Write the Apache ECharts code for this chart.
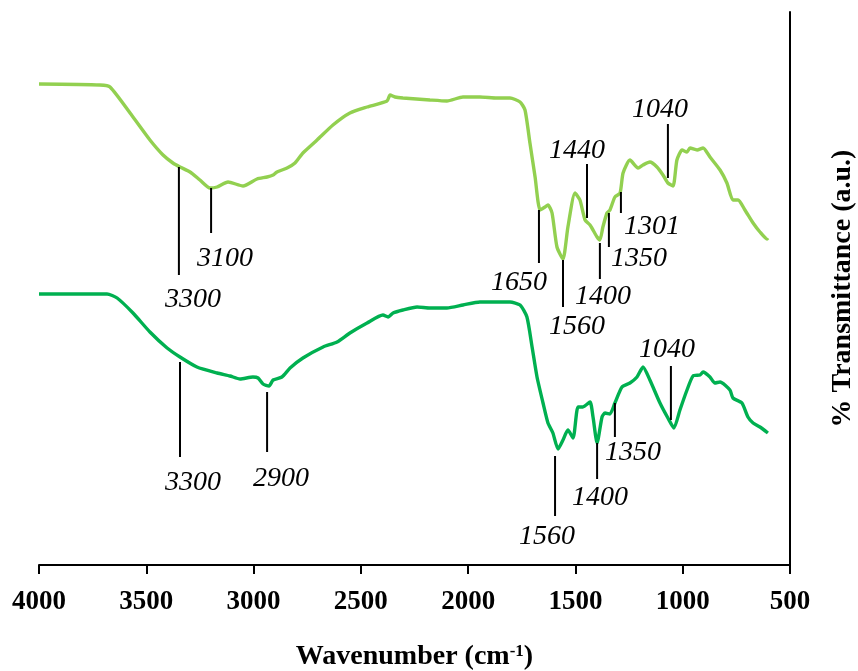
<!DOCTYPE html>
<html>
<head>
<meta charset="utf-8">
<script src="https://cdn.jsdelivr.net/npm/echarts@6/dist/echarts.min.js"></script>
<style>
html,body{margin:0;padding:0;background:#fff;}
#chart{width:858px;height:671px;}
</style>
</head>
<body>
<div id="chart"></div>
<script>
// ---- Data ----
var xTicks = [4000, 3500, 3000, 2500, 2000, 1500, 1000, 500];

// Upper spectrum (light green)
var upperWavenumber = [4000,3716,3669,3562,3483,3422,3376,3343,3296,3250,3203,3170,3119,3049,2984,2937,2909,2891,2844,2807,2770,2704,2630,2551,2471,2378,2364,2341,2304,2178,2099,2024,1945,1866,1805,1758,1735,1712,1688,1665,1642,1628,1609,1586,1558,1535,1502,1479,1455,1432,1399,1386,1372,1353,1339,1316,1292,1278,1246,1208,1185,1153,1120,1092,1069,1045,1027,1003,980,966,933,905,873,826,794,766,742,710,672,640,607,603];
var upperTransmittance = [481,480,478,448,425,410,402,398,393,385,377,378,383,379,386,388,390,393,397,402,412,425,440,452,458,464,470,468,467,465,464,468,468,467,467,463,455,422,388,355,358,360,352,318,306,338,372,365,345,340,328,325,338,352,355,368,372,392,405,397,400,403,398,390,382,379,405,415,413,417,415,417,408,395,382,365,365,355,342,333,326,327];

// Lower spectrum (green)
var lowerWavenumber = [4000,3683,3636,3562,3483,3403,3343,3264,3170,3110,3063,3003,2979,2956,2928,2909,2868,2830,2770,2676,2611,2551,2471,2397,2373,2350,2304,2238,2178,2099,2024,1945,1805,1758,1726,1702,1679,1651,1628,1605,1581,1558,1535,1511,1488,1465,1432,1418,1399,1376,1362,1339,1316,1283,1246,1213,1185,1153,1106,1069,1041,1013,980,952,919,905,873,850,826,780,766,724,696,672,640,603];
var lowerTransmittance = [271,271,267,252,233,217,208,198,192,189,186,188,187,181,179,185,188,197,207,218,223,232,242,250,248,252,255,258,257,257,260,263,263,260,248,218,188,162,142,132,116,125,135,127,158,158,163,148,122,148,152,151,162,178,182,188,198,185,162,147,137,155,175,189,190,193,188,182,183,175,167,162,148,142,138,132];

// Peak annotations: label text, marker wavenumber, marker top and bottom (transmittance units)
var annotText   = ['3300','3100','1650','1560','1440','1400','1350','1301','1040','3300','2900','1560','1400','1350','1040'];
var annotWn     = [3348, 3198, 1670, 1558, 1446, 1386, 1344, 1288, 1069, 3343, 2937, 1595, 1399, 1316, 1055];
var annotTop    = [398, 377, 355, 305, 401, 322, 352, 373, 441, 203, 173, 109, 122, 162, 199];
var annotBottom = [290, 332, 302, 258, 347, 286, 318, 352, 387, 108, 113, 49, 86, 128, 145];

// ---- Styles (label placement relative to the marker end, in pixels) ----
var annotAbove = [false,false,false,false,true,false,false,false,true,false,false,false,false,false,true];
var annotDx    = [14,14,-20,14,-10,3,30,31,-8,13,14,-8,3,18,-4];
var annotDy    = [25,26,20,20,-13,18,12,14,-14,26,27,21,19,16,-16];

function zip(a, b){ var r=[]; for (var i=0;i<a.length;i++) r.push([a[i], b[i]]); return r; }

var annotData = [];
for (var i=0;i<annotText.length;i++) annotData.push([annotWn[i], annotTop[i], annotBottom[i], i]);

var serif = "'Liberation Serif','Times New Roman',serif";

var chart = echarts.init(document.getElementById('chart'), null, {renderer:'canvas'});
chart.setOption({
  backgroundColor: '#fff',
  animation: false,
  grid: { left: 39, right: 68, top: 12, bottom: 106, containLabel: false, outerBoundsMode: 'none' },
  xAxis: {
    type: 'value', min: 500, max: 4000, interval: 500, inverse: true,
    axisLine: { show: true, lineStyle: { color: '#000', width: 2 } },
    axisTick: { show: true, length: 9, inside: false, lineStyle: { color: '#000', width: 2 } },
    axisLabel: { show: true, margin: 24, color: '#000', fontFamily: serif, fontWeight: 'bold', fontSize: 27,
      formatter: function(v){ return xTicks.indexOf(v) >= 0 ? String(v) : ''; } },
    splitLine: { show: false },
    name: '{a|Wavenumber (cm}{s|-1}{a|)}',
    nameLocation: 'middle', nameGap: 78,
    nameTextStyle: {
      rich: {
        a: { fontFamily: serif, fontWeight: 'bold', fontSize: 28, color: '#000' },
        s: { fontFamily: serif, fontWeight: 'bold', fontSize: 17, color: '#000', verticalAlign: 'top', padding: [0,0,10,0] }
      }
    }
  },
  yAxis: {
    type: 'value', position: 'right', min: 0, max: 553,
    axisLine: { show: true, onZero: false, lineStyle: { color: '#000', width: 2 } },
    axisTick: { show: false }, axisLabel: { show: false }, splitLine: { show: false },
    name: '% Transmittance (a.u.)', nameLocation: 'middle', nameRotate: 90, nameGap: 39,
    nameTextStyle: { fontFamily: serif, fontWeight: 'bold', fontSize: 28, color: '#000' }
  },
  series: [
    { name: 'upper', type: 'line', data: zip(upperWavenumber, upperTransmittance), showSymbol: false, smooth: 0.2,
      lineStyle: { color: '#92D050', width: 3.4 }, itemStyle: { color: '#92D050' } },
    { name: 'lower', type: 'line', data: zip(lowerWavenumber, lowerTransmittance), showSymbol: false, smooth: 0.2,
      lineStyle: { color: '#00B050', width: 3.4 }, itemStyle: { color: '#00B050' } },
    { name: 'peaks', type: 'custom', clip: false, z: 5,
      data: annotData,
      renderItem: function(params, api){
        var idx = api.value(3);
        var p1 = api.coord([api.value(0), api.value(1)]);
        var p2 = api.coord([api.value(0), api.value(2)]);
        var anchor = annotAbove[idx] ? p1 : p2;
        return { type: 'group', children: [
          { type: 'line', shape: { x1: p1[0], y1: p1[1], x2: p2[0], y2: p2[1] }, style: { stroke: '#000', lineWidth: 2 } },
          { type: 'text', x: anchor[0] + annotDx[idx], y: anchor[1] + annotDy[idx],
            style: { text: annotText[idx], fill: '#000', font: 'italic 28px ' + serif, align: 'center', verticalAlign: 'middle' } }
        ]};
      }
    }
  ]
});
</script>
</body>
</html>
